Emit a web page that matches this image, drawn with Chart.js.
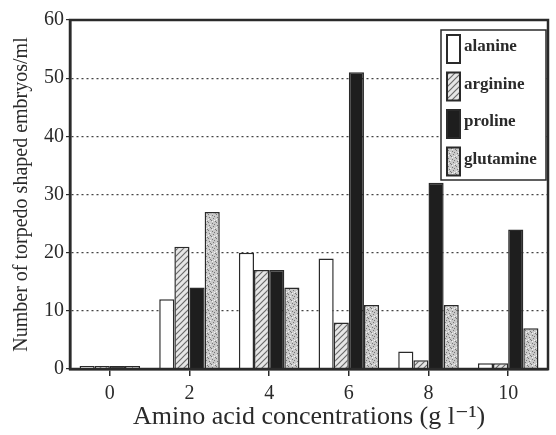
<!DOCTYPE html>
<html>
<head>
<meta charset="utf-8">
<script src="https://cdn.jsdelivr.net/npm/chart.js@4.4.1/dist/chart.umd.min.js"></script>
<style>
  body { margin: 0; background: #fff; }
  #wrap { width: 556px; height: 435px; }
</style>
</head>
<body>
<div id="wrap"><canvas id="chart" width="556" height="435"></canvas></div>
<script>
const categories = ["0", "2", "4", "6", "8", "10"];
const alanine = [0.5, 12, 20, 19, 3, 1];
const arginine = [0.5, 21, 17, 8, 1.5, 1];
const proline = [0.5, 14, 17, 51, 32, 24];
const glutamine = [0.5, 27, 14, 11, 11, 7];
const yTicks = [0, 10, 20, 30, 40, 50, 60];

const serif = "'Liberation Serif', 'DejaVu Serif', serif";
const ink = "#2a2a2a";

// fill patterns
function hatch() {
  const c = document.createElement("canvas");
  c.width = 6; c.height = 6;
  const g = c.getContext("2d");
  g.fillStyle = "#e6e6e6";
  g.fillRect(0, 0, 6, 6);
  g.strokeStyle = "#6a6a6a";
  g.lineWidth = 1.2;
  g.beginPath();
  g.moveTo(0, 6); g.lineTo(6, 0);
  g.moveTo(-3, 3); g.lineTo(3, -3);
  g.moveTo(3, 9); g.lineTo(9, 3);
  g.stroke();
  return g.createPattern(c, "repeat");
}
function stipple() {
  const c = document.createElement("canvas");
  c.width = 8; c.height = 8;
  const g = c.getContext("2d");
  g.fillStyle = "#c9c9c9";
  g.fillRect(0, 0, 8, 8);
  g.fillStyle = "#777";
  [[1, 1], [5, 2], [3, 4], [7, 5], [0, 6], [4, 7], [6, 0], [2, 3]].forEach(p => g.fillRect(p[0], p[1], 1, 1));
  g.fillStyle = "#f2f2f2";
  [[2, 0], [6, 4], [0, 3], [4, 5]].forEach(p => g.fillRect(p[0], p[1], 1, 1));
  return g.createPattern(c, "repeat");
}

const ctx = document.getElementById("chart").getContext("2d");
const fills = ["#ffffff", hatch(), "#1e1e1e", stipple()];

function ds(label, data, i) {
  return {
    label: label,
    data: data,
    backgroundColor: fills[i],
    borderColor: ink,
    borderWidth: 1.5,
    barPercentage: 1,
    categoryPercentage: 0.76
  };
}

// frame + legend box inside the plot
const framePlugin = {
  id: "frame",
  afterDraw(chart) {
    const a = chart.chartArea;
    const c = chart.ctx;
    c.save();
    c.strokeStyle = ink;
    c.lineWidth = 2.5;
    c.strokeRect(a.left, a.top, a.right - a.left, a.bottom - a.top);

    // legend
    const lx = 441, ly = 30, lw = 105, lh = 150;
    c.fillStyle = "#fff";
    c.fillRect(lx, ly, lw, lh);
    c.lineWidth = 1.5;
    c.strokeRect(lx, ly, lw, lh);
    c.font = "bold 17px " + serif;
    c.textBaseline = "middle";
    chart.data.datasets.forEach((d, i) => {
      const y = ly + 5 + i * 37.5;
      c.fillStyle = d.backgroundColor;
      c.fillRect(lx + 6, y, 13, 28);
      c.lineWidth = 2;
      c.strokeStyle = ink;
      c.strokeRect(lx + 6, y, 13, 28);
      c.fillStyle = ink;
      c.fillText(d.label, lx + 23, y + 12);
    });
    c.restore();
  }
};

new Chart(ctx, {
  type: "bar",
  data: {
    labels: categories,
    datasets: [
      ds("alanine", alanine, 0),
      ds("arginine", arginine, 1),
      ds("proline", proline, 2),
      ds("glutamine", glutamine, 3)
    ]
  },
  options: {
    responsive: false,
    animation: false,
    layout: { padding: { left: 10, right: 8, top: 20, bottom: 2 } },
    plugins: {
      legend: { display: false },
      tooltip: { enabled: false }
    },
    scales: {
      x: {
        offset: true,
        grid: {
          offset: false,
          drawOnChartArea: false,
          drawTicks: true,
          tickLength: 7,
          color: ink,
          lineWidth: 1.5
        },
        border: { color: ink, width: 2.5 },
        ticks: {
          color: ink,
          font: { family: serif, size: 20 },
          padding: 6
        },
        title: {
          display: true,
          text: "Amino acid concentrations (g l\u207B\u00B9)",
          color: ink,
          font: { family: serif, size: 26 },
          padding: { top: -8, bottom: 0 }
        },
        afterFit(s) { s.height = 64; }
      },
      y: {
        min: 0,
        max: 60,
        afterBuildTicks(s) { s.ticks = yTicks.map(v => ({ value: v })); },
        grid: {
          color: c => (c.tick && (c.tick.value === 0 || c.tick.value === 60)) ? "rgba(0,0,0,0)" : "#444",
          tickColor: ink,
          tickLength: 4,
          lineWidth: 1.2
        },
        border: { color: ink, width: 2.5, dash: [2, 3] },
        ticks: {
          color: ink,
          font: { family: serif, size: 20 },
          padding: 2
        },
        title: {
          display: true,
          text: "Number of torpedo shaped embryos/ml",
          color: ink,
          font: { family: serif, size: 20 },
          padding: { top: 0, bottom: 1 }
        },
        afterFit(s) { s.width = 60; }
      }
    }
  },
  plugins: [framePlugin]
});
</script>
</body>
</html>
